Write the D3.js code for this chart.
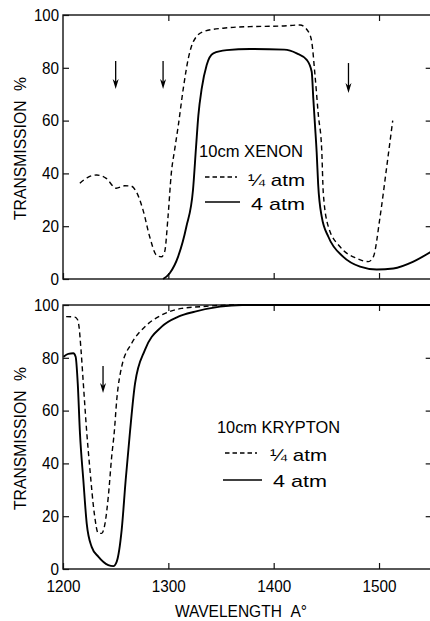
<!DOCTYPE html>
<html>
<head>
<meta charset="utf-8">
<script src="https://cdn.jsdelivr.net/npm/d3@7"></script>
<style>
body { margin: 0; background: #fff; }
svg { display: block; font-family: "Liberation Sans Narrow", "Liberation Sans", sans-serif; }
</style>
</head>
<body>
<div id="chart"></div>
<script>
// values (wavelength in A, transmission in %)
const wavelengthTicks = [1200, 1300, 1400, 1500];
const transmissionTicks = [0, 20, 40, 60, 80, 100];

const xenonQuarter = [
    [1216, 36.3], [1224, 38.6], [1232, 39.4], [1241, 38.1], [1250.5, 34.4], [1258.5, 35.3],
    [1264.5, 35.2], [1269.5, 33.1], [1276, 26.1], [1282.3, 16], [1288.6, 9.1], [1293.3, 8.4],
    [1296.5, 10.3], [1299.7, 23.6], [1302.8, 40], [1306, 49], [1309.5, 58.3], [1314.2, 72.2],
    [1319, 83.6], [1323.7, 89.9], [1333.2, 93.7], [1352, 95], [1377.5, 95.6], [1406, 95.8],
    [1425, 96.2], [1432.9, 93.7], [1436.1, 89.9], [1439.2, 77.3], [1442.4, 62.1], [1445.6, 48.9],
    [1447.1, 32.5], [1451.9, 19.8], [1463, 12.2], [1478.8, 7.8], [1489.9, 6.6], [1494.6, 8.4],
    [1501, 23.6], [1507.3, 42.5], [1513, 60]
];
const xenonFour = [
    [1295, 0], [1301.3, 2.2], [1309.2, 8.4], [1317.1, 19.8], [1323.4, 33.7], [1326.3, 50],
    [1328.5, 62], [1331.7, 72.2], [1336.4, 81.1], [1342.7, 85.5], [1355.4, 86.7], [1377.5, 87.1],
    [1410, 86.9], [1421.9, 85.5], [1431.4, 83], [1436.1, 78.5], [1437.6, 68.4], [1439.2, 58.3],
    [1440.8, 48], [1442.2, 36], [1445.6, 23.6], [1451.9, 16], [1466.1, 8.4], [1482, 4.7],
    [1497.8, 3.6], [1513.6, 4], [1532.6, 6.6], [1550, 10.5]
];
const kryptonQuarter = [
    [1203, 95.6], [1211.4, 95.4], [1214, 94.3], [1215.2, 91.8], [1217.1, 83], [1219.3, 70.3],
    [1222.5, 52], [1225.6, 37.5], [1229.7, 21.1], [1233.5, 13.5], [1236.7, 13.5], [1239.9, 17.3],
    [1243, 27.4], [1246.2, 42.5], [1248.7, 52], [1251, 64], [1255.7, 76.6], [1265.2, 85.5],
    [1277.8, 91.8], [1293.7, 96.2], [1312.7, 98.7], [1336, 99.5], [1360, 100], [1550, 100]
];
const kryptonFour = [
    [1200.5, 80.4], [1205, 81.5], [1209.8, 81.7], [1212, 80.4], [1214, 70.3], [1216.1, 51.4],
    [1219.3, 33.7], [1222.5, 17.3], [1227.2, 8.4], [1233.5, 4.7], [1243, 1.5], [1247.8, 1.1],
    [1251, 2.8], [1255.7, 14.8], [1259.5, 33.7], [1263.6, 52], [1268.4, 70.3], [1277.8, 83],
    [1293.7, 91.8], [1309.5, 95.6], [1325.3, 97.5], [1349, 99.4], [1370, 100], [1550, 100]
];
// arrows: [wavelength, transmission at tail, transmission at head]
const xenonArrows = [[1250, 82.6, 72], [1295, 82.6, 72], [1471, 81.8, 70.5]];
const kryptonArrows = [[1238, 76.9, 66.7]];

const xenonLegend = ["10cm XENON", "\u00BC atm", "4 atm"];
const kryptonLegend = ["10cm KRYPTON", "\u00BC atm", "4 atm"];

const W = 430, H = 621;
const svg = d3.select("#chart").append("svg")
    .attr("width", W)
    .attr("height", H);

const x = d3.scaleLinear().domain([1200, 1550]).range([63, 431.7]);

function drawPanel(top, quarter, four, arrows, legend, legendPos, withLabels) {
    const y = d3.scaleLinear().domain([0, 100]).range([top + 264, top]);
    const g = svg.append("g");

    // frame
    g.append("rect")
        .attr("x", x(1200)).attr("y", y(100))
        .attr("width", x(1550) - x(1200)).attr("height", y(0) - y(100))
        .attr("fill", "none").attr("stroke", "#111").attr("stroke-width", 1.4);

    const left = g.append("g").attr("transform", `translate(${x(1200)},0)`)
        .call(d3.axisLeft(y).tickValues(transmissionTicks).tickSize(-6).tickPadding(4));
    const right = g.append("g").attr("transform", `translate(${x(1550)},0)`)
        .call(d3.axisRight(y).tickValues([20, 40, 60, 80]).tickSize(-6).tickFormat(""));
    const topAx = g.append("g").attr("transform", `translate(0,${y(100)})`)
        .call(d3.axisTop(x).tickValues([1300, 1400, 1500]).tickSize(-6).tickFormat(""));
    const bottom = g.append("g").attr("transform", `translate(0,${y(0)})`)
        .call(d3.axisBottom(x).tickValues(wavelengthTicks).tickSize(-6).tickPadding(12)
            .tickFormat(withLabels ? d3.format("d") : ""));

    [left, right, topAx, bottom].forEach(a => {
        a.select(".domain").remove();
        a.selectAll("line").attr("stroke", "#111").attr("stroke-width", 1.2);
        a.selectAll("text").attr("fill", "#000").attr("font-size", 16.5)
            .attr("font-family", "'Liberation Sans Narrow','Liberation Sans',sans-serif");
    });
    left.selectAll("text").attr("textLength", d => d === 100 ? 25 : (d === 0 ? 8.5 : 17))
        .attr("lengthAdjust", "spacingAndGlyphs");
    bottom.selectAll("text").attr("font-size", 16)
        .attr("textLength", 34).attr("lengthAdjust", "spacingAndGlyphs");

    // y label
    const ylab = g.append("text")
        .attr("transform", `translate(26,${top + 133.5}) rotate(-90)`)
        .attr("text-anchor", "middle")
        .attr("font-size", 16.5)
        .attr("textLength", 143)
        .attr("lengthAdjust", "spacingAndGlyphs");
    ylab.append("tspan").text("TRANSMISSION");
    ylab.append("tspan").attr("dx", 10).text("%");

    const line = d3.line()
        .x(d => x(d[0]))
        .y(d => y(d[1]))
        .curve(d3.curveMonotoneX);

    g.append("path").datum(quarter)
        .attr("d", line)
        .attr("fill", "none").attr("stroke", "#000")
        .attr("stroke-width", 1.4).attr("stroke-dasharray", "5,3.5");
    g.append("path").datum(four)
        .attr("d", line)
        .attr("fill", "none").attr("stroke", "#000")
        .attr("stroke-width", 1.9);

    // arrows
    arrows.forEach(a => {
        const ax = x(a[0]), y1 = y(a[1]), y2 = y(a[2]);
        g.append("line")
            .attr("x1", ax).attr("x2", ax).attr("y1", y1).attr("y2", y2 - 4)
            .attr("stroke", "#000").attr("stroke-width", 1.3);
        g.append("path")
            .attr("d", `M${ax},${y2} L${ax - 3},${y2 - 10} L${ax},${y2 - 7} L${ax + 3},${y2 - 10} Z`)
            .attr("fill", "#000");
    });

    // legend
    const p = legendPos;
    g.append("text").attr("x", p.titleX).attr("y", p.titleY)
        .attr("font-size", 16.5).attr("textLength", p.titleW).attr("lengthAdjust", "spacingAndGlyphs")
        .text(legend[0]);
    g.append("line")
        .attr("x1", p.dashX1).attr("x2", p.dashX2).attr("y1", p.dashY).attr("y2", p.dashY)
        .attr("stroke", "#000").attr("stroke-width", 1.3).attr("stroke-dasharray", "4.5,3");
    g.append("text").attr("x", p.qX).attr("y", p.qY)
        .attr("font-size", 17).attr("textLength", 57).attr("lengthAdjust", "spacingAndGlyphs")
        .text(legend[1]);
    g.append("line")
        .attr("x1", p.solX1).attr("x2", p.solX2).attr("y1", p.solY).attr("y2", p.solY)
        .attr("stroke", "#000").attr("stroke-width", 1.5);
    g.append("text").attr("x", p.fX).attr("y", p.fY)
        .attr("font-size", 17).attr("textLength", 54).attr("lengthAdjust", "spacingAndGlyphs")
        .text(legend[2]);
}

drawPanel(15, xenonQuarter, xenonFour, xenonArrows, xenonLegend,
    {titleX: 199, titleY: 157, titleW: 104, dashX1: 205, dashX2: 237, dashY: 177, qX: 248, qY: 186,
     solX1: 205, solX2: 240, solY: 202, fX: 251, fY: 210}, false);
drawPanel(305, kryptonQuarter, kryptonFour, kryptonArrows, kryptonLegend,
    {titleX: 217, titleY: 433, titleW: 123, dashX1: 225, dashX2: 257, dashY: 453, qX: 270, qY: 461,
     solX1: 223, solX2: 262, solY: 480, fX: 273, fY: 487}, true);

// x label
svg.append("text")
    .attr("x", 175).attr("y", 617)
    .attr("font-size", 17)
    .attr("textLength", 132).attr("lengthAdjust", "spacingAndGlyphs")
    .text("WAVELENGTH\u00A0\u00A0A\u00B0");
</script>
</body>
</html>
